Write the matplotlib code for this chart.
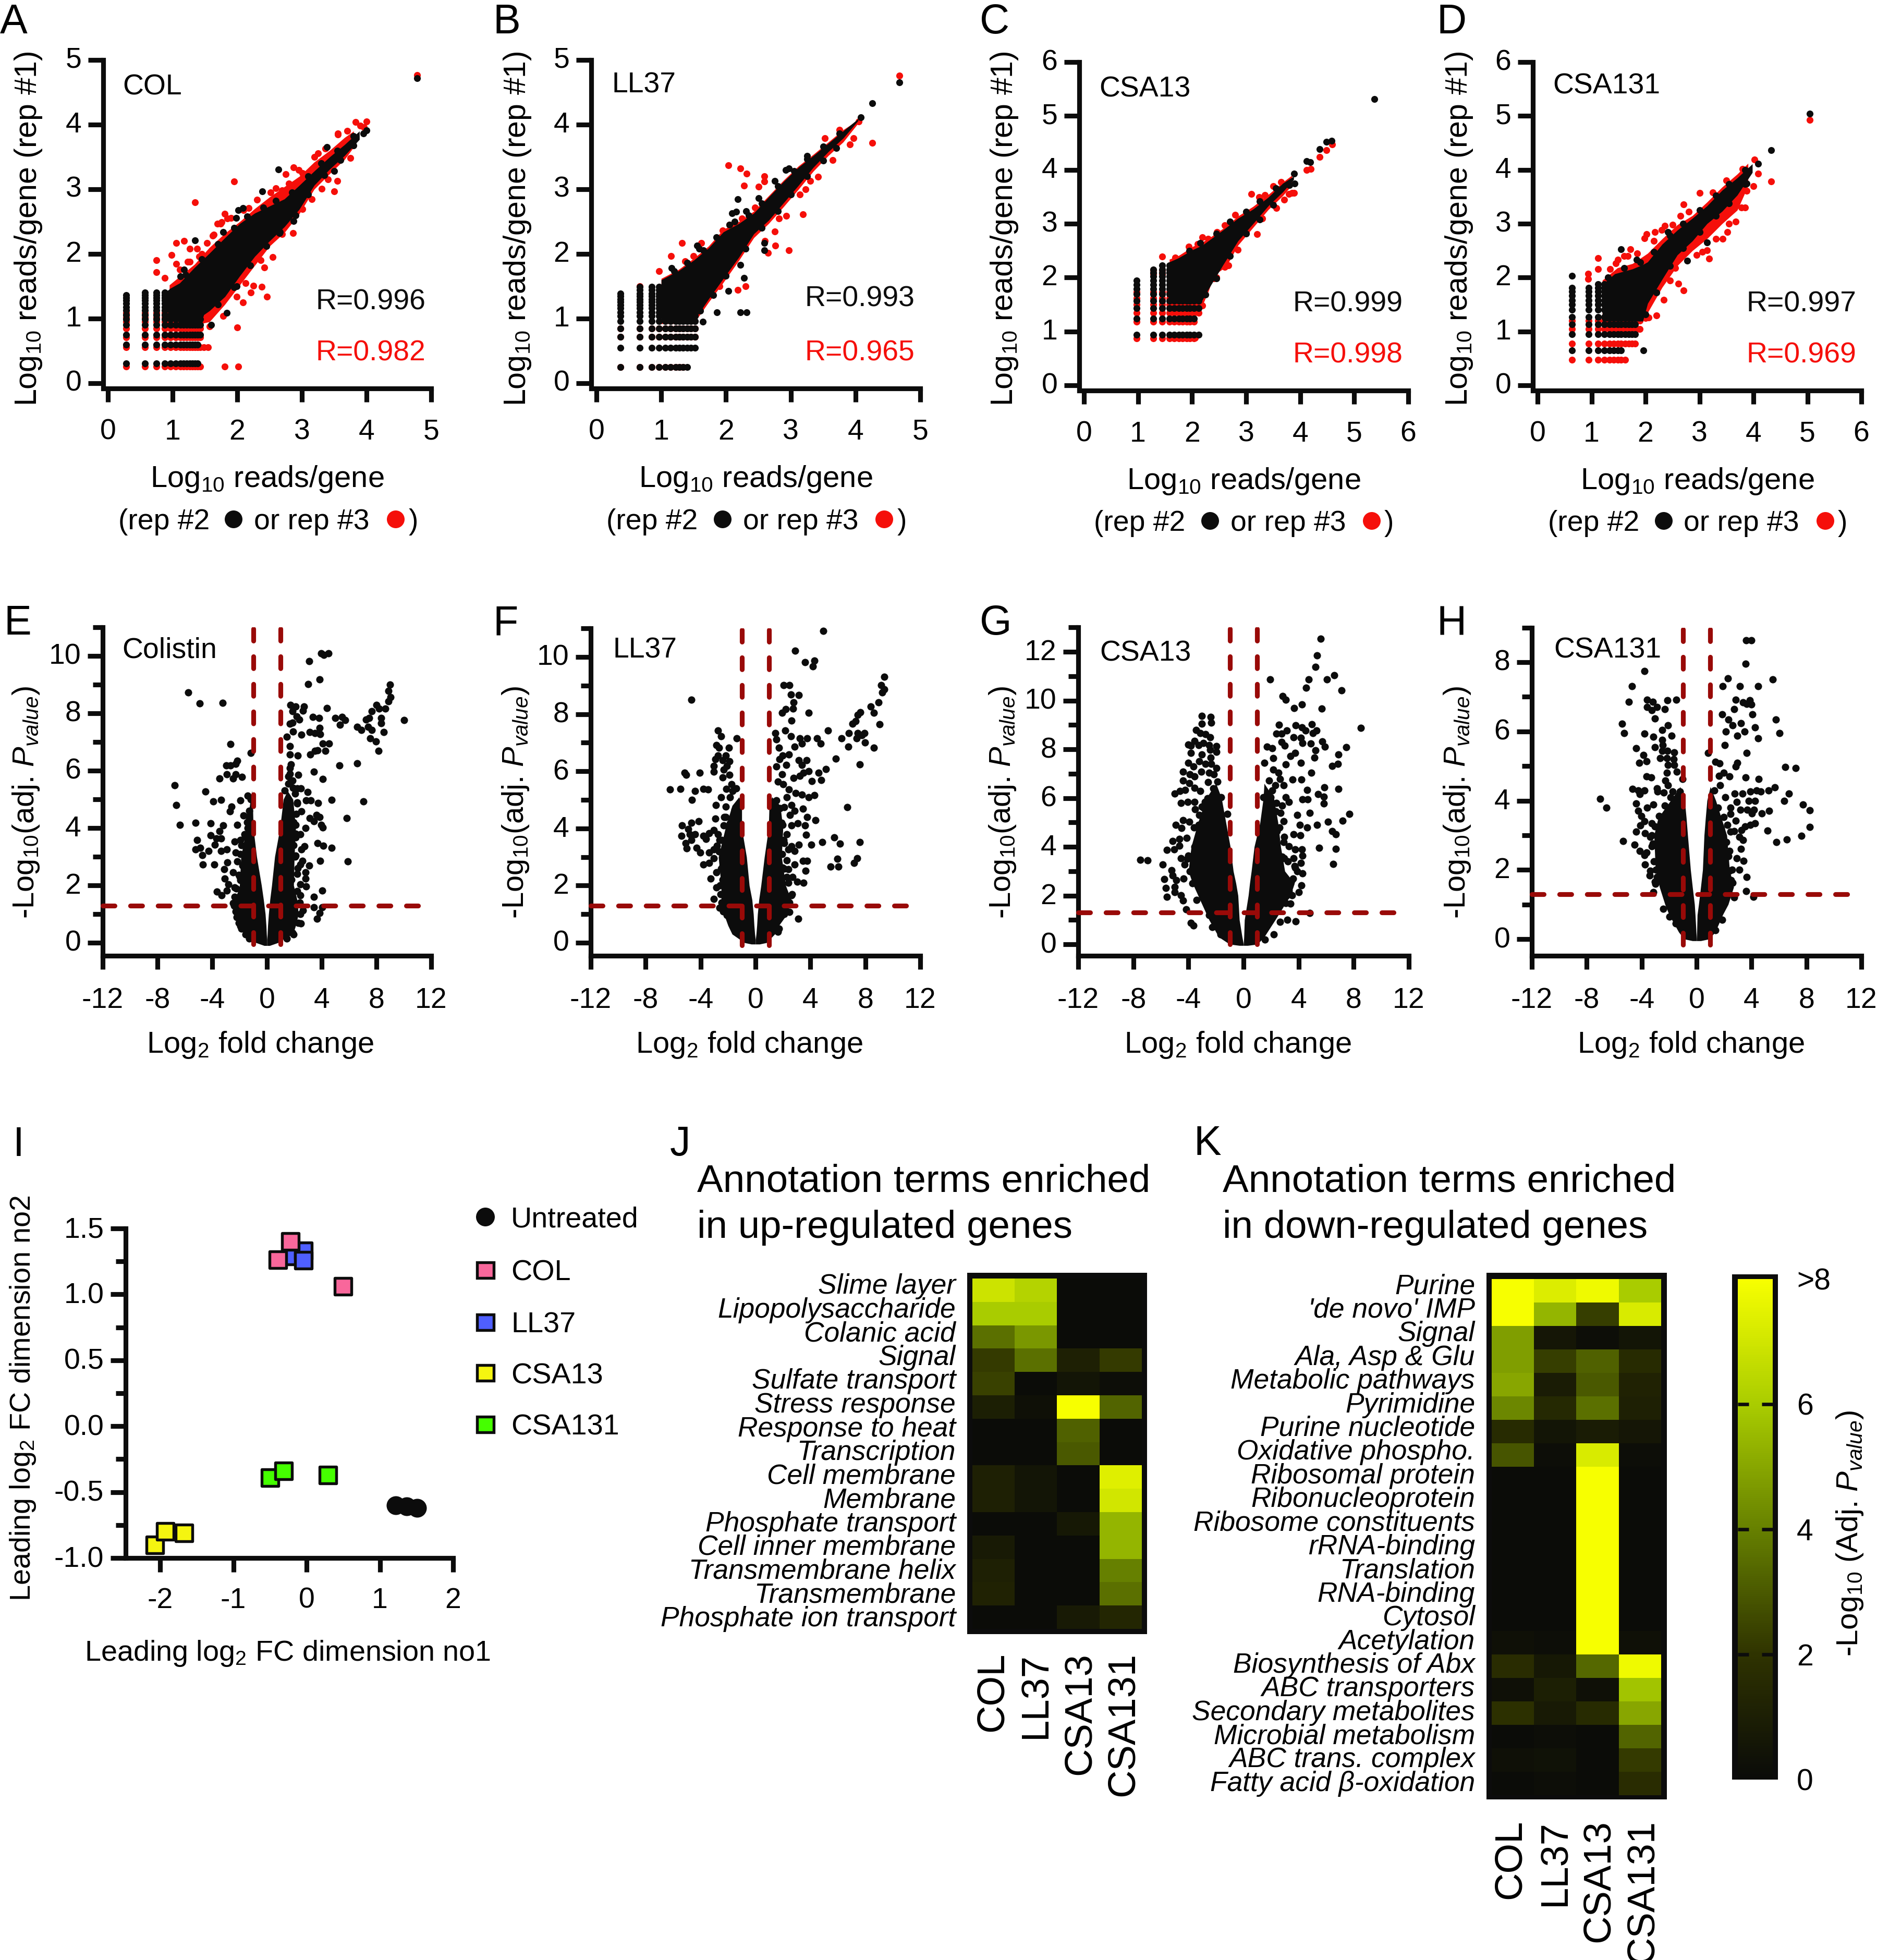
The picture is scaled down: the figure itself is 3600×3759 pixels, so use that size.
import matplotlib
matplotlib.use("Agg")
import matplotlib.pyplot as plt
from matplotlib.colors import LinearSegmentedColormap, Normalize
from matplotlib.cm import ScalarMappable
from matplotlib.patches import Rectangle, Ellipse
from matplotlib.transforms import ScaledTranslation

plt.rcParams['font.family'] = ['Liberation Sans', 'DejaVu Sans']
plt.rcParams['mathtext.fontset'] = 'custom'
plt.rcParams['mathtext.rm'] = 'Liberation Sans'
plt.rcParams['mathtext.it'] = 'Liberation Sans:italic'
plt.rcParams['mathtext.bf'] = 'Liberation Sans:bold'
plt.rcParams['axes.unicode_minus'] = False
plt.rcParams['lines.scale_dashes'] = False

W, H = 3600, 3759

# ---------- scatter data (A-D): (x, y) ----------
A_grid_x = [0.28, 0.57, 0.75, 0.88, 0.97, 1.05, 1.12, 1.17, 1.22, 1.27, 1.31, 1.35, 1.39, 1.43]
A_col_top = [1.36, 1.43, 1.43, 1.45, 1.45, 1.45, 1.45, 1.45, 1.45, 1.45, 1.45, 1.45, 1.45, 1.45]
A_grid_y = [0.31, 0.60, 0.75, 0.90, 0.99, 1.06, 1.13, 1.18, 1.23, 1.28, 1.32, 1.36, 1.40]
A_row_right = [1.41, 1.41, 1.43, 1.43, 1.50, 1.50, 1.50, 1.50, 1.50, 1.50, 1.50, 1.50, 1.50]
A_red_y = [0.26, 0.56, 0.71, 0.85, 0.95, 1.02, 1.09]
A_red_right = [1.43, 1.43, 1.43, 1.45, 1.50, 1.50, 1.50]
A_core_x = [0.95, 1.11, 1.34, 1.57, 1.81, 2.04, 2.27, 2.50, 2.73, 2.96, 3.19, 3.43, 3.66, 3.89]
A_core_lo = [0.96, 0.96, 0.96, 1.12, 1.34, 1.66, 1.96, 2.20, 2.42, 2.69, 3.06, 3.31, 3.52, 3.77]
A_core_hi = [1.46, 1.55, 1.79, 2.01, 2.25, 2.47, 2.63, 2.74, 2.85, 3.06, 3.28, 3.50, 3.69, 3.90]
A_band_x = [0.95, 1.34, 1.57, 1.81, 2.04, 2.27, 2.50, 2.73, 2.96, 3.19, 3.43, 3.66, 3.80]
A_band_lo = [0.90, 0.90, 0.95, 1.22, 1.52, 1.82, 2.12, 2.33, 2.62, 3.00, 3.24, 3.46, 3.65]
A_band_hi = [1.52, 1.84, 2.10, 2.32, 2.50, 2.70, 2.88, 3.04, 3.20, 3.42, 3.60, 3.80, 3.90]
A_red_px = [4.78, 1.95, 1.35, 2.87, 2.75, 4.0, 3.83, 3.96, 3.56, 3.70, 3.50, 3.55, 3.31, 2.86, 2.55, 2.42, 2.46, 2.38, 2.25, 2.21, 2.09, 2.0, 1.78, 1.18, 1.06, 1.27, 1.38, 0.98, 1.06, 0.75, 0.75, 0.88, 1.27, 1.41, 1.81, 1.69, 1.76, 1.62, 1.53, 1.81, 2.02, 1.55, 1.48,
            1.11, 1.23, 1.64, 1.74, 1.85, 2.18, 2.31, 2.52, 2.69, 2.80, 3.01, 3.19, 3.36, 3.56, 1.57, 1.99, 2.13, 2.36, 2.45, 2.69, 3.01, 3.15, 3.40, 1.45, 1.90, 2.10, 2.60, 2.95, 3.25, 3.75, 3.90]
A_red_py = [4.77, 3.12, 2.80, 3.34, 3.23, 4.05, 4.04, 3.96, 3.86, 3.90, 2.97, 3.13, 3.01, 2.32, 1.95, 1.79, 1.34, 1.49, 1.51, 1.40, 1.25, 0.86, 1.04, 2.20, 2.17, 2.08, 2.08, 1.98, 1.85, 1.90, 1.72, 1.63, 1.88, 1.96, 2.62, 2.47, 2.49, 2.28, 2.17, 0.26, 0.26, 0.56, 0.56,
            1.76, 1.88, 2.30, 2.47, 2.55, 2.71, 2.84, 2.95, 2.98, 3.09, 3.25, 3.50, 3.63, 3.85, 0.88, 1.34, 1.55, 1.90, 2.15, 2.31, 2.69, 2.85, 3.15, 2.00, 2.56, 2.68, 3.02, 3.30, 3.56, 3.48, 3.98]
A_blk_px = [4.78, 4.0, 3.95, 3.39, 2.64, 2.39, 2.09, 2.02, 1.98, 1.35, 1.78, 1.18, 1.12, 2.66, 2.87, 1.84, 1.6, 1.99, 3.5,
            1.20, 1.45, 1.70, 1.95, 2.15, 2.40, 2.60, 2.85, 3.10, 3.30, 3.55, 3.80, 1.70, 1.95, 2.20, 2.45, 2.65, 2.90, 3.10, 3.35, 3.60, 3.80]
A_blk_py = [4.72, 3.91, 3.86, 3.65, 3.31, 2.97, 2.71, 2.68, 2.56, 2.21, 2.34, 1.76, 1.65, 2.34, 2.51, 1.09, 0.90, 1.50, 3.28,
            1.68, 1.92, 2.15, 2.40, 2.58, 2.72, 2.82, 2.95, 3.20, 3.40, 3.60, 3.82, 1.22, 1.48, 1.82, 2.12, 2.32, 2.60, 2.92, 3.22, 3.45, 3.68]

B_grid_x = [0.37, 0.67, 0.85, 0.97, 1.06, 1.14, 1.22, 1.28, 1.34, 1.40, 1.46, 1.52]
B_col_top = [1.40, 1.50, 1.58, 1.55, 1.63, 1.63, 1.63, 1.63, 1.63, 1.63, 1.63, 1.63]
B_grid_y = [0.25, 0.55, 0.72, 0.85, 0.96, 1.04, 1.10, 1.16, 1.21, 1.26, 1.30, 1.35, 1.39, 1.44, 1.49]
B_row_right = [1.40, 1.52, 1.55, 1.60, 1.60, 1.60, 1.60, 1.60, 1.60, 1.60, 1.60, 1.60, 1.60, 1.60, 1.60]
B_red_y = [0.25, 0.72, 0.85, 1.50, 1.64]
B_red_right = [1.36, 1.55, 1.55, 0.70, 0.70]
B_core_x = [1.00, 1.27, 1.50, 1.73, 1.96, 2.20, 2.43, 2.66, 2.89, 3.12, 3.35, 3.58, 3.81, 4.04]
B_core_lo = [0.96, 0.96, 0.96, 1.30, 1.62, 1.95, 2.31, 2.52, 2.79, 3.06, 3.34, 3.58, 3.79, 4.06]
B_core_hi = [1.60, 1.74, 1.90, 2.09, 2.34, 2.47, 2.63, 2.88, 3.12, 3.34, 3.52, 3.71, 3.90, 4.09]
B_band_x = [1.00, 1.27, 1.50, 1.73, 1.96, 2.20, 2.43, 2.66, 2.89, 3.12, 3.35, 3.58, 3.81, 4.04]
B_band_lo = [0.92, 0.92, 0.92, 1.25, 1.56, 1.90, 2.25, 2.47, 2.73, 3.00, 3.28, 3.52, 3.73, 4.02]
B_band_hi = [1.62, 1.76, 1.93, 2.12, 2.38, 2.50, 2.66, 2.90, 3.14, 3.36, 3.54, 3.73, 3.92, 4.07]
B_red_px = [4.68, 4.26, 2.04, 2.22, 2.32, 2.28, 2.5, 2.59, 2.59, 3.19, 2.97, 2.76, 2.65, 2.3, 2.18, 1.32, 1.62, 1.15, 0.97, 1.37, 3.53, 3.97, 3.91, 2.93, 2.82, 3.23, 3.14, 3.42,
            1.95, 1.90, 2.05, 2.25, 2.45, 2.60, 2.75, 3.30, 3.65, 3.75, 4.05, 1.80, 1.50]
B_red_py = [4.76, 3.72, 3.37, 3.32, 3.24, 3.06, 3.04, 3.20, 3.12, 2.61, 2.06, 2.13, 2.02, 1.50, 1.44, 2.17, 2.17, 1.97, 1.73, 1.89, 3.79, 3.79, 3.69, 2.59, 2.55, 3.00, 2.92, 3.19,
            2.36, 1.50, 2.45, 2.55, 2.72, 2.20, 2.35, 3.13, 3.45, 3.92, 4.05, 1.70, 1.97]
B_blk_px = [4.68, 4.26, 4.08, 2.18, 2.5, 2.75, 2.92, 2.97, 3.25, 2.13, 2.09, 2.16, 2.31, 2.28, 2.22, 2.04, 2.22, 2.32, 1.86, 1.64, 2.59, 2.59, 1.55, 1.59, 1.16,
            1.20, 1.40, 1.65, 1.85, 2.05, 2.35, 2.55, 2.80, 3.05, 3.25, 3.50, 3.75, 1.60, 1.80, 2.00, 2.30, 2.55, 2.80, 3.00, 3.25, 3.50, 3.70]
B_blk_py = [4.65, 4.33, 4.11, 2.85, 2.86, 3.13, 3.30, 3.32, 3.52, 2.50, 2.63, 2.65, 2.66, 1.63, 1.83, 1.43, 1.10, 1.10, 1.10, 0.95, 2.06, 2.17, 2.13, 2.08, 1.78,
            1.73, 1.86, 2.06, 2.26, 2.45, 2.60, 2.78, 3.05, 3.28, 3.47, 3.66, 3.86, 1.12, 1.36, 1.66, 2.08, 2.40, 2.66, 2.92, 3.20, 3.44, 3.64]

C_grid_x = [0.97, 1.28, 1.45, 1.58, 1.67, 1.76, 1.82, 1.90, 1.96, 2.04, 2.12]
C_col_top = [2.00, 2.18, 2.28, 2.23, 2.30, 2.30, 2.30, 2.30, 2.30, 2.30, 2.30]
C_grid_y = [0.94, 1.24, 1.43, 1.57, 1.69, 1.79, 1.87, 1.95, 2.02, 2.09, 2.15, 2.23]
C_row_right = [2.12, 2.05, 2.12, 2.20, 2.20, 2.20, 2.20, 2.20, 2.20, 2.20, 2.20, 2.20]
C_red_y = [0.87, 1.18, 1.35, 1.50, 1.62, 1.73, 2.07, 2.14, 2.39]
C_red_right = [2.06, 2.10, 2.19, 2.19, 2.19, 2.19, 1.45, 1.45, 1.45]
C_core_x = [1.58, 1.74, 2.02, 2.19, 2.30, 2.57, 2.85, 3.13, 3.41, 3.68, 3.88]
C_core_lo = [1.58, 1.58, 1.58, 1.58, 1.78, 2.23, 2.68, 3.00, 3.33, 3.59, 3.82]
C_core_hi = [2.29, 2.36, 2.52, 2.60, 2.68, 2.88, 3.10, 3.27, 3.49, 3.75, 3.88]
C_band_x = [1.58, 1.74, 2.02, 2.19, 2.30, 2.41, 2.63, 2.85, 3.13, 3.41, 3.68, 3.85]
C_band_lo = [1.50, 1.50, 1.50, 1.48, 1.74, 2.05, 2.20, 2.60, 2.93, 3.26, 3.52, 3.72]
C_band_hi = [2.34, 2.40, 2.58, 2.66, 2.72, 2.80, 2.95, 3.14, 3.32, 3.54, 3.77, 3.90]
C_red_px = [4.59, 4.49, 4.36, 4.2, 4.12, 3.89, 3.79, 3.1, 3.5, 3.56, 3.2, 2.19, 1.94, 1.69, 1.45, 2.46, 2.67, 2.45, 2.19, 2.92, 3.24, 3.35, 2.05,
            2.10, 2.30, 2.60, 2.80, 3.30, 3.65, 2.40, 2.60, 2.85, 3.00, 3.30, 3.70, 3.85]
C_red_py = [4.47, 4.36, 4.24, 4.02, 4.0, 3.57, 3.55, 3.55, 3.70, 3.29, 2.81, 2.75, 2.57, 2.37, 2.39, 2.85, 2.23, 2.00, 1.48, 3.06, 3.49, 3.53, 0.88,
            2.62, 2.72, 2.97, 3.16, 3.42, 3.77, 1.98, 2.20, 2.52, 2.85, 3.10, 3.45, 3.57]
C_blk_px = [5.37, 4.58, 4.49, 4.36, 4.19, 4.12, 3.89, 3.9,
            1.95, 2.15, 2.45, 2.70, 3.00, 3.25, 3.55, 2.25, 2.45, 2.70, 3.00, 3.25, 3.50, 3.80]
C_blk_py = [5.31, 4.54, 4.52, 4.38, 4.14, 4.16, 3.93, 3.75,
            2.50, 2.64, 2.82, 3.04, 3.22, 3.42, 3.66, 1.68, 1.98, 2.40, 2.82, 3.08, 3.35, 3.72]

D_grid_x = [0.64, 0.95, 1.12, 1.24, 1.33, 1.41, 1.49, 1.55, 1.62, 1.69, 1.75, 1.81, 1.89]
D_col_top = [1.81, 1.81, 1.95, 1.92, 1.92, 1.92, 1.92, 1.92, 1.92, 1.92, 1.92, 1.92, 1.92]
D_grid_y = [0.65, 0.95, 1.13, 1.27, 1.40, 1.50, 1.58, 1.66, 1.74, 1.81, 1.88]
D_row_right = [1.55, 1.81, 1.87, 1.90, 1.90, 1.90, 1.90, 1.90, 1.90, 1.90, 1.90]
D_red_y = [0.47, 0.77, 1.05, 1.20]
D_red_right = [1.62, 1.85, 1.90, 1.90]
D_core_x = [1.20, 1.43, 1.76, 1.95, 2.04, 2.31, 2.59, 2.87, 3.14, 3.42, 3.70, 3.98]
D_core_lo = [1.19, 1.19, 1.19, 1.19, 1.52, 1.97, 2.42, 2.68, 3.00, 3.23, 3.53, 3.95]
D_core_hi = [1.87, 2.07, 2.16, 2.24, 2.29, 2.62, 2.88, 3.10, 3.33, 3.62, 3.85, 4.11]
D_band_x = [1.20, 1.48, 1.76, 2.04, 2.31, 2.59, 2.87, 3.14, 3.42, 3.70, 3.90]
D_band_lo = [1.10, 1.10, 1.10, 1.35, 1.82, 2.22, 2.50, 2.72, 3.00, 3.25, 3.70]
D_band_hi = [1.95, 2.18, 2.26, 2.45, 2.72, 2.98, 3.15, 3.40, 3.68, 3.92, 4.12]
D_red_px = [5.04, 4.33, 4.09, 4.0, 4.02, 3.87, 3.78, 3.64, 3.67, 3.52, 3.43, 3.18, 3.14, 3.0, 2.71, 2.71, 2.61, 2.34, 2.06, 2.02, 2.17, 1.98, 2.36, 1.72, 1.67, 1.12, 1.12, 0.94, 0.94, 1.49, 1.34,
            1.45, 1.60, 1.85, 2.15, 2.30, 2.50, 2.65, 2.80, 3.25, 3.50, 3.80, 1.85, 2.00, 2.20, 2.45, 2.55, 2.95, 3.05, 3.30, 3.55, 3.85]
D_red_py = [4.93, 3.78, 3.93, 3.70, 4.19, 3.61, 3.30, 3.33, 3.04, 2.85, 2.72, 2.35, 2.51, 3.57, 3.36, 1.76, 1.89, 1.59, 1.26, 2.81, 2.85, 2.73, 2.96, 2.53, 2.40, 2.36, 2.16, 2.07, 1.97, 2.33, 2.16,
            2.26, 2.40, 2.45, 2.68, 2.88, 2.98, 3.15, 3.22, 3.58, 3.80, 4.02, 1.05, 1.25, 1.30, 1.95, 2.18, 2.42, 2.48, 2.72, 3.00, 3.30]
D_blk_px = [5.04, 4.33, 4.09, 1.55, 1.96, 2.77, 3.14, 2.42, 1.84, 3.87, 3.75, 0.64,
            1.30, 1.60, 1.90, 2.15, 2.45, 2.70, 3.00, 3.30, 3.55, 3.85, 2.00, 2.20, 2.45, 2.70, 3.00, 3.30, 3.55, 3.85]
D_blk_py = [5.04, 4.36, 4.11, 2.53, 0.65, 2.31, 2.65, 2.85, 2.33, 3.75, 3.78, 2.03,
            2.00, 2.18, 2.28, 2.48, 2.78, 3.00, 3.25, 3.52, 3.74, 4.00, 1.32, 1.72, 2.22, 2.55, 2.85, 3.15, 3.38, 3.74]

R_black = ['R=0.996', 'R=0.993', 'R=0.999', 'R=0.997']
R_red = ['R=0.982', 'R=0.965', 'R=0.998', 'R=0.969']
top_titles = ['COL', 'LL37', 'CSA13', 'CSA131']

# ---------- volcano data (E-H) ----------
# dense V core: for each -log10 p level, inner and outer log2 FC
E_lv = [-0.10, 0.0, 0.1, 0.3, 0.6, 1.0, 1.5, 2.0, 3.0, 4.0, 5.0, 5.3]
E_L_out = [-0.2, -0.8, -1.1, -1.7, -2.0, -2.3, -2.3, -2.0, -1.9, -1.5, -1.2, -1.1]
E_L_in = [0.0, 0.0, 0.0, -0.03, -0.06, -0.12, -0.25, -0.4, -0.75, -1.0, -1.05, -1.1]
E_R_out = [0.2, 0.8, 1.1, 1.9, 2.1, 2.3, 2.2, 1.95, 2.0, 2.1, 1.9, 1.5]
E_R_in = [0.0, 0.0, 0.0, 0.03, 0.06, 0.12, 0.22, 0.35, 0.57, 0.95, 1.2, 1.5]
E_px = [10.0, 9.0, 8.87, 9.04, 8.87, 8.65, 8.0, 7.66, 8.2, 8.36, 8.36, 8.54, 8.17, 7.97, 7.55, 7.66, 7.4, 6.9, 6.6, 7.23, 7.45, 5.7, 5.33, 4.98, 5.48, 4.54, 4.06, 4.28, 5.28, 6.59, 7.05, 5.81, 5.92, 4.74, 4.72, 4.06, 3.41, 4.39, 3.86, 3.01, 3.08, 3.95, 4.17, 4.5, 3.34, 3.8, 3.14, 3.52, 3.89, 3.84, 2.53, 1.92, 1.44, 1.66, 1.88, 2.16, 2.38, 2.64, 2.71, 2.1, 1.72, 1.88, 1.68, 1.68, 2.25, 3.17, 3.52, 3.69, 1.77, 1.66, 1.66, 2.27, 1.88, 1.55, 2.2, 2.49, 2.97, 1.29, 2.86, 3.19, 3.73, 3.62, 3.84, 3.14, 3.41, 3.95, 4.06, 3.69, 4.1, 3.89, 3.08, 2.75, 2.53, 2.6, 2.82, 2.82, 2.86, 3.41, 4.02, 3.41, 4.02, 3.84, 3.67, 2.47, 1.88, 2.82, 2.42, 2.1, 2.53, 2.2, 2.1, 2.1, 2.42, 2.2, 2.42, 2.42, 2.64,
        -5.76, -4.93, -3.25, -2.66, -1.18, -2.99, -2.66, -2.16, -2.27, -2.93, -3.47, -2.27, -2.49, -1.83, -6.75, -6.64, -6.38, -5.22, -4.5, -3.91, -3.36, -2.6, -2.71, -1.94, -1.4, -4.13, -3.19, -4.13, -3.47, -3.69, -3.36, -3.8, -4.28, -5.11, -5.22, -4.89, -4.74, -4.67, -3.86, -3.36, -2.93, -2.88, -3.14, -3.1, -2.49, -2.05, -2.82, -2.93, -3.65, -3.32, -2.49, -2.38, -2.27, -2.16, -1.72, -2.16, -1.94, -2.38, -1.94, -2.16, -1.94, -1.62, -1.4, -1.72, -1.94,
        -2.40, -2.30, -2.20, -2.05, -1.85, -1.55, -1.30, -2.35, -2.25, -2.00, -1.80, -1.95, -1.85, -1.60, -1.45, -1.30, -1.20, -1.35, 1.95, 2.30, 2.45, 2.40, 2.20, 1.80, 1.45, 2.25, 2.05, 1.95, 2.10, 1.95, 2.15, 2.20, 2.05, 1.90, 1.70, 1.55]
E_py = [7.76, 9.0, 8.78, 8.56, 8.41, 8.16, 8.29, 8.08, 8.16, 7.84, 7.66, 7.35, 6.69, 7.02, 7.13, 7.42, 7.52, 7.42, 7.52, 7.79, 7.84, 7.77, 7.6, 7.84, 7.88, 6.95, 6.95, 6.69, 6.19, 6.26, 4.93, 4.34, 2.83, 3.31, 4.98, 5.71, 5.96, 8.19, 9.18, 9.02, 9.81, 10.1, 10.03, 10.1, 7.87, 7.84, 7.35, 7.31, 7.28, 7.5, 7.26, 7.36, 7.19, 7.63, 7.68, 7.9, 7.79, 8.09, 8.24, 8.24, 8.29, 8.08, 6.86, 6.56, 6.53, 6.56, 6.69, 6.71, 6.22, 6.1, 5.89, 5.85, 5.66, 5.55, 5.39, 5.39, 5.25, 5.31, 4.96, 4.96, 4.88, 4.45, 4.38, 4.35, 4.24, 4.11, 4.02, 3.47, 3.38, 2.86, 2.69, 3.36, 3.26, 2.85, 2.45, 2.24, 1.97, 1.6, 1.81, 1.23, 1.23, 1.04, 0.83, 0.67, 0.35, 4.0, 3.79, 3.68, 4.59, 4.86, 4.11, 3.04, 2.72, 2.4, 2.03, 1.65, 1.12,
        8.72, 8.34, 8.36, 6.92, 6.62, 6.19, 6.19, 6.35, 6.24, 5.87, 5.73, 5.87, 5.73, 5.78, 5.5, 4.8, 4.11, 4.19, 5.28, 4.93, 4.99, 4.75, 4.59, 4.96, 5.12, 4.16, 4.1, 3.74, 3.9, 3.63, 3.63, 3.42, 3.2, 3.58, 3.25, 3.31, 3.06, 2.72, 2.72, 3.2, 3.25, 2.8, 2.56, 2.24, 2.45, 2.37, 2.03, 1.81, 1.79, 1.65, 1.39, 3.52, 3.15, 4.11, 4.43, 2.83, 3.58, 1.92, 1.65, 1.01, 0.59, 3.79, 4.0, 2.72, 2.19,
        1.30, 1.10, 0.90, 0.70, 0.50, 0.30, 0.15, 1.60, 1.90, 2.30, 2.70, 3.10, 3.40, 3.70, 4.20, 4.60, 5.00, 4.40, 0.30, 0.70, 1.00, 1.40, 1.80, 2.20, 0.15, 2.60, 3.00, 3.40, 3.80, 4.20, 4.50, 4.90, 5.20, 5.40, 5.60, 5.80]

F_lv = [-0.05, 0.0, 0.1, 0.3, 0.6, 1.0, 1.5, 2.0, 3.0, 4.0, 4.8, 5.1]
F_L_out = [-0.3, -0.8, -1.1, -1.7, -2.0, -2.3, -2.5, -2.5, -2.7, -2.2, -1.7, -1.2]
F_L_in = [0.0, 0.0, 0.0, -0.05, -0.1, -0.15, -0.25, -0.45, -0.65, -1.0, -1.0, -1.2]
F_R_out = [0.3, 0.8, 1.0, 1.4, 1.7, 2.3, 2.6, 2.2, 1.9, 2.0, 1.8, 1.2]
F_R_in = [0.0, 0.0, 0.0, 0.05, 0.1, 0.15, 0.25, 0.4, 0.65, 0.95, 1.0, 1.2]
F_px = [4.92, 2.9, 3.59, 4.31, 4.18, 9.39, 9.15, 9.37, 9.22, 8.95, 8.41, 8.61, 9.04, 8.63, 7.95, 7.97, 7.73, 7.36, 7.45, 7.63, 7.45, 7.3, 7.08, 6.8, 6.27, 6.75, 5.86, 7.58, 6.69, 5.27, 4.47, 4.75, 3.75, 3.22, 3.38, 2.83, 3.73, 3.16, 3.38, 5.14, 4.58, 4.79, 3.88, 3.49, 3.22, 4.1, 2.79, 4.31, 3.88, 3.38, 2.94, 3.44, 3.75, 4.36, 3.59, 3.09, 3.7, 4.07, 4.86, 5.73, 6.14, 7.58, 5.95, 7.41, 7.17, 5.45, 6.03, 3.75, 3.44, 3.64, 3.49, 3.12, 3.05, 2.83, 3.16, 2.83, 2.61, 1.92, 2.22, 2.72, 2.77, 2.57, 3.16, 2.05, 2.48, 3.86, 1.46, 2.18, 2.57, 1.53, 1.7, 2.44, 1.96, 1.74, 1.53, 2.24, 1.92, 1.63, 2.0, 2.44, 2.29, 1.53, 2.07, 2.61, 2.83, 2.51, 1.96, 2.61, 2.29, 2.07, 2.4, 2.61, 2.29, 1.96, 2.4, 2.68, 2.29, 2.61, 2.46, 1.63,
        -4.68, -2.75, -2.51, -1.35, -1.94, -2.83, -2.66, -2.18, -2.72, -2.94, -2.4, -1.9, -3.05, -2.07, -2.33, -3.05, -5.16, -5.05, -4.05, -2.4, -1.9, -6.21, -5.45, -4.42, -3.81, -3.44, -4.62, -1.74, -2.14, -1.42, -1.68, -2.51, -1.85, -2.9, -2.18, -1.53, -2.94, -2.29, -1.85, -5.36, -4.68, -4.14, -4.9, -5.38, -4.79, -4.42, -3.81, -3.38, -3.05, -2.72, -5.08, -5.01, -4.68, -4.31, -4.03, -3.59, -3.38, -3.05, -2.61, -3.05, -3.81, -3.38, -2.4, -2.4, -3.27, -2.83, -3.05, -2.83, -2.4, -2.61, -2.07, -1.63,
        -2.35, -2.45, -2.55, -2.60, -2.50, -2.65, -2.80, -2.45, -2.30, -2.15, 1.70, 2.10, 2.45, 2.65, 2.40, 2.10, 1.95, 2.05, 1.90, 1.80]
F_py = [10.92, 10.21, 9.81, 9.87, 9.67, 9.3, 9.02, 8.87, 8.76, 8.41, 8.27, 8.04, 7.64, 6.82, 7.34, 7.0, 7.26, 7.16, 7.34, 8.06, 7.98, 7.75, 7.66, 7.34, 7.15, 6.86, 6.45, 6.25, 4.75, 7.43, 7.15, 6.97, 7.15, 7.15, 6.97, 6.86, 6.38, 6.38, 6.22, 6.08, 5.95, 5.7, 6.0, 5.95, 5.84, 5.65, 5.77, 5.17, 5.09, 5.18, 5.23, 4.69, 4.39, 4.28, 4.11, 4.18, 3.77, 3.43, 3.53, 3.68, 3.46, 3.52, 2.93, 2.95, 2.79, 2.66, 2.66, 2.86, 2.86, 2.52, 2.09, 0.84, 2.14, 2.73, 3.43, 3.22, 7.77, 8.04, 8.18, 8.2, 8.41, 8.68, 8.66, 9.02, 9.02, 8.04, 7.34, 7.43, 7.23, 7.11, 6.83, 6.59, 6.56, 6.43, 6.16, 6.22, 5.89, 5.63, 5.55, 5.36, 5.09, 4.98, 4.75, 4.82, 4.61, 4.47, 4.13, 4.11, 3.8, 3.48, 3.27, 3.38, 2.89, 2.63, 2.57, 2.3, 2.3, 1.66, 1.07, 0.38,
        8.5, 7.42, 7.23, 7.15, 6.82, 6.91, 6.83, 6.56, 6.56, 6.43, 6.38, 6.35, 6.18, 6.18, 6.06, 5.98, 5.95, 5.88, 5.95, 5.79, 5.87, 5.36, 5.39, 5.31, 5.39, 5.36, 5.0, 5.54, 5.39, 5.41, 5.31, 5.09, 5.09, 4.82, 4.77, 4.66, 4.34, 4.39, 4.18, 4.11, 4.2, 4.25, 3.97, 3.75, 3.8, 3.8, 3.75, 3.84, 3.94, 3.8, 3.48, 3.3, 3.59, 3.32, 3.16, 3.64, 3.16, 3.27, 3.59, 2.95, 2.73, 2.79, 2.95, 2.68, 2.25, 2.47, 1.53, 1.93, 2.2, 1.23, 0.96, 0.59,
        1.10, 1.40, 1.70, 2.00, 2.60, 3.20, 3.40, 3.60, 4.10, 4.40, 0.50, 1.00, 1.40, 1.70, 2.10, 2.60, 3.10, 3.60, 4.20, 4.70]

G_lv = [-0.05, 0.0, 0.3, 1.0, 2.0, 2.5, 3.0, 4.0, 5.0, 6.0, 6.6]
G_L_out = [-0.3, -1.0, -1.8, -2.5, -3.3, -3.7, -4.0, -3.8, -3.3, -2.7, -2.0]
G_L_in = [0.0, 0.0, -0.1, -0.3, -0.4, -0.55, -0.74, -0.96, -1.28, -1.6, -2.0]
G_R_out = [0.3, 1.0, 1.5, 2.3, 3.4, 3.7, 3.0, 2.7, 2.5, 2.2, 1.5]
G_R_in = [0.0, 0.0, 0.03, 0.07, 0.35, 0.45, 0.57, 0.78, 1.2, 1.44, 1.5]
G_px = [5.6, 5.34, 5.23, 6.58, 6.06, 4.75, 1.94, 4.53, 7.12, 2.85, 3.07, 4.23, 3.68, 5.66, 8.5, 4.95, 2.57, 3.77, 4.23, 4.49, 5.29, 5.03, 3.14, 2.75, 2.37, 3.62, 4.16, 4.88, 4.27, 5.73, 5.9, 7.45, 5.21, 6.88, 5.14, 6.84, 6.45, 4.92, 4.16, 3.07, 1.5, 4.2, 3.55, 2.16, 2.16, 2.53, 1.72, 2.09, 2.75, 3.0, 3.4, 3.73, 2.64, 1.87, 2.31, 2.9, 4.6, 5.88, 6.88, 5.4, 5.82, 5.84, 4.27, 4.64, 3.29, 2.81, 1.44, 1.98, 3.07, 3.9, 4.81, 7.67, 7.21, 6.12, 5.34, 4.62, 4.1, 4.12, 3.64, 2.92, 2.35, 6.45, 6.69, 5.49, 6.69, 6.51, 4.23, 3.73, 4.27, 3.62, 4.16, 3.73, 4.27, 3.29, 2.96, 2.42, 2.96, 4.2, 4.01, 3.51, 3.4, 4.81, 3.77, 3.18, 2.64, 2.2, 1.55,
        -3.03, -2.4, -2.33, -3.03, -3.46, -3.14, -2.75, -2.42, -3.57, -4.0, -3.83, -2.92, -3.25, -2.48, -1.98, -3.83, -2.42, -1.98, -3.03, -2.37, -4.0, -3.64, -3.2, -2.75, -2.33, -1.98, -4.38, -3.9, -3.57, -3.07, -2.48, -2.16, -4.38, -3.94, -3.57, -2.59, -1.9, -4.99, -4.6, -4.23, -3.14, -4.55, -4.05, -3.57, -2.81, -2.05, -1.61, -3.53, -3.03, -2.48, -1.18, -4.92, -4.38, -4.49, -3.94, -3.25, -5.14, -4.66, -4.12, -4.66, -5.58, -5.03, -4.55, -4.0, -4.27, -5.86, -5.23, -5.14, -5.75, -4.88, -4.34, -5.64, -4.99, -5.58, -4.99, -4.55, -4.38, -3.42, -4.16, -3.83, -3.62, -2.27, -1.66, -1.72, -6.95, -7.49,
        -3.70, -3.90, -4.10, -3.55, -3.30, -3.60, -3.20, -2.90, -2.60, -2.20, -2.50, 3.30, 3.60, 3.90, 3.70, 3.20, 2.80, 2.90, 2.60, 2.70, 2.40, 2.10, 3.10, 3.50, 3.05]
G_py = [12.53, 11.85, 11.39, 11.03, 10.87, 10.87, 10.87, 10.52, 10.41, 10.19, 10.04, 9.85, 9.69, 9.66, 8.88, 9.03, 9.01, 8.98, 8.89, 8.76, 8.76, 8.67, 8.76, 8.64, 8.64, 8.5, 8.46, 8.23, 8.25, 8.33, 8.1, 8.08, 7.95, 7.79, 7.66, 7.4, 7.31, 7.04, 7.45, 7.37, 7.44, 6.77, 6.75, 7.64, 7.16, 7.04, 8.1, 8.04, 8.29, 8.14, 7.73, 7.85, 6.78, 6.72, 6.53, 6.53, 6.34, 6.43, 6.37, 6.16, 6.06, 5.78, 5.94, 5.94, 5.84, 5.68, 6.03, 6.03, 6.03, 5.31, 5.39, 5.34, 5.06, 5.03, 4.89, 4.8, 4.9, 4.46, 4.52, 5.05, 5.46, 4.65, 4.52, 3.96, 3.92, 3.29, 3.89, 3.89, 3.64, 3.52, 3.33, 3.14, 2.91, 4.02, 4.4, 4.65, 3.52, 2.42, 2.14, 2.01, 1.66, 1.28, 0.94, 1.0, 0.92, 0.4, 0.19,
        9.37, 9.33, 9.1, 9.05, 8.79, 8.67, 8.61, 8.5, 8.35, 8.19, 8.14, 8.25, 8.17, 8.17, 8.13, 7.85, 7.98, 7.89, 7.79, 7.66, 7.45, 7.29, 7.5, 7.41, 7.41, 7.22, 7.07, 6.97, 6.88, 7.07, 7.04, 6.97, 6.72, 6.6, 6.41, 6.66, 6.68, 6.19, 6.28, 6.34, 6.28, 5.8, 5.84, 5.84, 5.84, 6.03, 6.03, 5.53, 5.65, 5.4, 5.34, 4.9, 5.09, 4.77, 5.03, 4.9, 4.23, 4.33, 4.37, 4.04, 3.87, 3.89, 3.52, 3.64, 3.27, 3.27, 3.04, 2.83, 2.68, 2.64, 2.7, 2.32, 2.36, 1.95, 2.14, 2.01, 1.8, 1.82, 1.44, 0.88, 0.78, 0.7, 0.41, 0.63, 3.45, 3.47,
        2.50, 3.00, 3.50, 4.00, 4.40, 4.80, 5.30, 5.60, 6.00, 6.40, 1.20, 2.20, 2.70, 3.00, 3.20, 3.40, 3.60, 4.20, 4.80, 5.40, 5.80, 6.30, 2.00, 2.60, 1.70]

H_lv = [-0.05, 0.0, 0.2, 0.7, 1.0, 1.5, 2.0, 3.0, 3.5, 4.0, 4.4]
H_L_out = [-0.3, -0.9, -1.3, -2.0, -2.3, -2.7, -3.0, -3.1, -2.8, -1.9, -1.2]
H_L_in = [0.0, 0.0, -0.03, -0.1, -0.15, -0.3, -0.44, -0.65, -0.75, -0.87, -1.2]
H_R_out = [0.3, 0.9, 1.35, 1.9, 2.3, 2.7, 2.4, 2.2, 1.8, 1.4, 1.0]
H_R_in = [0.0, 0.0, 0.02, 0.05, 0.15, 0.3, 0.44, 0.55, 0.65, 0.76, 1.0]
H_px = [3.59, 3.99, 3.57, 2.27, 5.53, 1.9, 3.14, 4.47, 2.83, 3.88, 3.38, 3.64, 3.99, 2.72, 1.85, 4.07, 2.33, 5.77, 2.61, 3.22, 4.25, 2.14, 3.49, 2.98, 6.03, 4.47, 2.05, 3.64, 0.83, 1.35, 1.68, 2.98, 2.83, 6.45, 7.23, 1.96, 1.63, 2.4, 3.57, 4.51, 5.69, 5.23, 4.68, 4.36, 3.92, 6.71, 6.38, 3.33, 2.79, 3.81, 4.25, 2.94, 2.07, 1.7, 7.73, 8.24, 8.24, 7.63, 6.58, 5.82, 5.16, 5.29, 4.75, 4.18, 3.7, 4.03, 3.2, 2.46, 2.46, 2.83, 1.96, 4.25, 3.92, 3.55, 3.27, 2.24, 3.12, 3.38, 2.72, 2.4, 3.22, 2.94, 3.42, 3.12, 3.66, 2.4, 3.62, 4.14, 1.85, 1.37, 2.61,
        -3.79, -4.71, -4.92, -3.6, -3.2, -3.6, -3.27, -2.88, -2.33, -2.11, -1.48, -3.05, -5.42, -5.27, -3.81, -2.51, -2.07, -3.16, -1.81, -2.51, -3.05, -2.46, -4.4, -2.51, -2.11, -1.63, -3.88, -2.66, -2.18, -1.68, -4.18, -3.66, -2.07, -1.63, -3.66, -3.31, -2.18, -1.46, -1.02, -2.29, -2.07, -2.88, -4.68, -4.25, -3.81, -4.14, -2.83, -2.4, -1.74, -1.2, -7.02, -6.56, -4.4, -4.25, -4.03, -3.6, -3.16, -3.81, -4.1, -3.27, -4.42, -3.77, -5.34, -4.53, -4.14, -3.66, -3.81, -3.75, -3.38, -3.27, -3.38, -3.42, -3.05, -3.16, -2.44, -1.96, -1.53,
        -2.90, -3.10, -3.20, -3.05, -2.75, -2.30, -1.90, -3.25, -3.00, -2.95, 2.75, 2.50, 2.30, 2.15, 1.80, 1.55, 2.60, 2.45, 1.30]
H_py = [8.64, 8.64, 7.95, 7.53, 7.51, 7.3, 7.3, 7.3, 6.92, 6.9, 6.84, 6.8, 6.78, 6.65, 6.49, 6.49, 6.35, 6.35, 6.18, 6.24, 6.11, 6.0, 6.0, 5.88, 5.95, 5.8, 5.6, 5.38, 5.38, 5.12, 5.07, 5.09, 4.98, 4.97, 4.94, 4.81, 4.72, 4.7, 4.67, 4.63, 4.38, 4.3, 4.27, 4.29, 4.27, 4.21, 4.0, 4.2, 4.2, 4.0, 4.0, 3.96, 4.1, 4.45, 3.88, 3.72, 3.24, 2.98, 2.88, 2.8, 3.14, 3.7, 3.63, 3.73, 3.73, 3.63, 3.73, 3.79, 3.61, 3.42, 3.52, 3.35, 3.3, 3.26, 3.15, 3.3, 2.95, 2.86, 3.12, 2.55, 2.61, 2.33, 2.26, 2.0, 1.8, 1.97, 1.39, 1.22, 0.56, 0.25, 1.62,
        7.74, 7.3, 6.86, 6.92, 6.86, 6.71, 6.62, 6.71, 6.65, 6.9, 6.92, 6.38, 6.22, 5.95, 5.94, 6.04, 6.18, 5.85, 5.87, 5.76, 5.55, 5.6, 5.52, 5.44, 5.44, 5.4, 5.32, 5.23, 5.23, 5.2, 5.09, 5.13, 5.03, 5.03, 4.7, 4.67, 4.81, 4.83, 4.63, 4.58, 4.45, 4.36, 4.34, 4.3, 4.29, 4.19, 4.27, 4.23, 4.27, 4.27, 4.06, 3.8, 3.92, 3.7, 3.55, 3.79, 3.89, 3.41, 3.28, 3.35, 3.1, 3.06, 2.83, 2.72, 2.55, 2.5, 2.42, 2.15, 2.95, 2.68, 1.97, 1.84, 1.65, 1.35, 0.88, 0.65, 0.45,
        1.80, 2.25, 2.75, 3.25, 3.55, 3.85, 4.10, 3.00, 1.60, 2.00, 1.20, 1.70, 2.40, 2.80, 3.20, 3.80, 2.00, 3.10, 4.30]

volcano_titles = ['Colistin', 'LL37', 'CSA13', 'CSA131']

# ---------- MDS data (I) ----------
mds_untreated_x = [1.22, 1.37, 1.51]
mds_untreated_y = [-0.60, -0.61, -0.62]
mds_col_x = [-0.39, -0.22, 0.50]
mds_col_y = [1.264, 1.40, 1.06]
mds_ll37_x = [-0.18, -0.04, -0.04]
mds_ll37_y = [1.29, 1.33, 1.26]
mds_csa13_x = [-2.07, -1.93, -1.67]
mds_csa13_y = [-0.90, -0.80, -0.81]
mds_csa131_x = [-0.50, -0.31, 0.29]
mds_csa131_y = [-0.39, -0.34, -0.37]
mds_names = ['Untreated', 'COL', 'LL37', 'CSA13', 'CSA131']

# ---------- heat maps ----------
heat_cols = ['COL', 'LL37', 'CSA13', 'CSA131']
up_terms = ['Slime layer', 'Lipopolysaccharide', 'Colanic acid', 'Signal', 'Sulfate transport',
            'Stress response', 'Response to heat', 'Transcription', 'Cell membrane', 'Membrane',
            'Phosphate transport', 'Cell inner membrane', 'Transmembrane helix', 'Transmembrane',
            'Phosphate ion transport']
up_COL = [6.9, 6.0, 3.6, 2.2, 2.4, 1.0, 0.1, 0.1, 1.1, 1.1, 0.1, 0.8, 1.1, 1.2, 0.1]
up_LL37 = [6.3, 6.0, 4.6, 3.6, 0.1, 0.3, 0.1, 0.1, 0.5, 0.5, 0.1, 0.1, 0.1, 0.1, 0.1]
up_CSA13 = [0.1, 0.1, 0.1, 1.1, 0.5, 8.0, 3.2, 3.0, 0.1, 0.1, 0.7, 0.1, 0.1, 0.1, 0.8]
up_CSA131 = [0.1, 0.1, 0.1, 2.2, 0.2, 3.3, 0.1, 0.1, 7.4, 7.0, 5.4, 5.4, 4.0, 3.6, 1.4]
down_terms = ['Purine', "'de novo' IMP", 'Signal', 'Ala, Asp & Glu', 'Metabolic pathways', 'Pyrimidine',
              'Purine nucleotide', 'Oxidative phospho.', 'Ribosomal protein', 'Ribonucleoprotein',
              'Ribosome constituents', 'rRNA-binding', 'Translation', 'RNA-binding', 'Cytosol', 'Acetylation',
              'Biosynthesis of Abx', 'ABC transporters', 'Secondary metabolites', 'Microbial metabolism',
              'ABC trans. complex', 'Fatty acid β-oxidation']
down_COL = [8.0, 8.0, 4.8, 4.8, 5.0, 4.2, 1.6, 2.9, 0.1, 0.1, 0.1, 0.1, 0.1, 0.1, 0.1, 0.3, 1.7, 0.3, 1.9, 0.1, 0.3, 0.1]
down_LL37 = [7.3, 5.4, 0.6, 2.3, 0.9, 1.5, 0.5, 0.2, 0.1, 0.1, 0.1, 0.1, 0.1, 0.1, 0.1, 0.2, 0.7, 1.0, 0.8, 0.2, 0.4, 0.2]
down_CSA13 = [7.8, 2.3, 0.2, 3.2, 3.0, 3.6, 0.9, 7.2, 8.0, 8.0, 8.0, 8.0, 8.0, 8.0, 8.0, 8.0, 3.4, 0.3, 1.6, 0.1, 0.1, 0.1]
down_CSA131 = [6.0, 7.2, 0.5, 1.6, 1.2, 1.1, 0.6, 0.2, 0.1, 0.1, 0.1, 0.1, 0.1, 0.1, 0.1, 0.3, 7.8, 5.8, 5.0, 3.3, 2.2, 1.7]
cbar_ticks = [0, 2, 4, 6, 8]
cbar_labels = ['0', '2', '4', '6', '>8']
cbar_marks = [2, 4, 6]

# ---------- drawing ----------
BLACK = '#0c0c0c'
RED = '#f50f0a'
DASH = '#990a08'
FS = 13.3
LAB = 13.9

fig = plt.figure(figsize=(W / 300, H / 300), dpi=300, facecolor='white')


def px_axes(x0, x1, ytop, ybot, **kw):
    return fig.add_axes([x0 / W, 1 - ybot / H, (x1 - x0) / W, (ybot - ytop) / H], **kw)


def T(x, y, s, **kw):
    kw.setdefault('fontsize', FS)
    kw.setdefault('va', 'baseline')
    kw.setdefault('ha', 'left')
    return fig.text(x / W, 1 - y / H, s, **kw)


def style(ax, xt, xl, yt, yl, yminor=None, xpad=7.7, lift=5):
    for s in ('top', 'right'):
        ax.spines[s].set_visible(False)
    for s in ('left', 'bottom'):
        ax.spines[s].set_linewidth(2.2)
        ax.spines[s].set_color(BLACK)
    ax.set_xticks(xt)
    ax.set_xticklabels(xl)
    ax.set_yticks(yt)
    ax.set_yticklabels(yl)
    ax.tick_params(axis='x', length=6.2, width=2.2, pad=xpad, labelsize=FS, color=BLACK)
    ax.tick_params(axis='y', length=7.0, width=2.2, pad=3.0, labelsize=FS, color=BLACK)
    if yminor is not None:
        ax.set_yticks(yminor, minor=True)
        ax.tick_params(axis='y', which='minor', length=4.6, width=2.2, color=BLACK)
    offset = ScaledTranslation(0, lift / 300, fig.dpi_scale_trans)
    for lab in ax.get_yticklabels():
        lab.set_transform(lab.get_transform() + offset)
    ax.patch.set_alpha(0)


def grid_points(xs, tops, ys, rights):
    px, py = [], []
    for x, t in zip(xs, tops):
        for y, r in zip(ys, rights):
            if x <= r and y <= t:
                px.append(x)
                py.append(y)
    return px, py


top_panels = [
    dict(letter='A', lx=0, spine=198, x0=207, x1=827, xmax=5, ytop=115, y0=735, yb=745, ymax=5, ylx=55, tx=235, ty=181,
         rx=606, r1=593, r2=691, xc=512, xb=934, lb=1015, l1=227, c1=448, l2=487, c2=759, l3=784,
         gx=A_grid_x, gt=A_col_top, gy=A_grid_y, gr=A_row_right, ry=A_red_y, rr=A_red_right,
         cx=A_core_x, cl=A_core_lo, ch=A_core_hi, bx=A_band_x, bl=A_band_lo, bh=A_band_hi,
         rpx=A_red_px, rpy=A_red_py, kpx=A_blk_px, kpy=A_blk_py),
    dict(letter='B', lx=945, spine=1134, x0=1144, x1=1765, xmax=5, ytop=115, y0=735, yb=745, ymax=5, ylx=992, tx=1173, ty=177,
         rx=1543, r1=588, r2=691, xc=1449, xb=934, lb=1015, l1=1163, c1=1386, l2=1425, c2=1696, l3=1721,
         gx=B_grid_x, gt=B_col_top, gy=B_grid_y, gr=B_row_right, ry=B_red_y, rr=B_red_right,
         cx=B_core_x, cl=B_core_lo, ch=B_core_hi, bx=B_band_x, bl=B_band_lo, bh=B_band_hi,
         rpx=B_red_px, rpy=B_red_py, kpx=B_blk_px, kpy=B_blk_py),
    dict(letter='C', lx=1879, spine=2070, x0=2079, x1=2701, xmax=6, ytop=119, y0=739, yb=749, ymax=6, ylx=1927, tx=2108, ty=186,
         rx=2479, r1=597, r2=695, xc=2385, xb=938, lb=1018, l1=2098, c1=2321, l2=2360, c2=2631, l3=2655,
         gx=C_grid_x, gt=C_col_top, gy=C_grid_y, gr=C_row_right, ry=C_red_y, rr=C_red_right,
         cx=C_core_x, cl=C_core_lo, ch=C_core_hi, bx=C_band_x, bl=C_band_lo, bh=C_band_hi,
         rpx=C_red_px, rpy=C_red_py, kpx=C_blk_px, kpy=C_blk_py),
    dict(letter='D', lx=2755, spine=2940, x0=2949, x1=3570, xmax=6, ytop=119, y0=739, yb=749, ymax=6, ylx=2798, tx=2978, ty=180,
         rx=3349, r1=597, r2=695, xc=3255, xb=938, lb=1018, l1=2969, c1=3191, l2=3229, c2=3501, l3=3525,
         gx=D_grid_x, gt=D_col_top, gy=D_grid_y, gr=D_row_right, ry=D_red_y, rr=D_red_right,
         cx=D_core_x, cl=D_core_lo, ch=D_core_hi, bx=D_band_x, bl=D_band_lo, bh=D_band_hi,
         rpx=D_red_px, rpy=D_red_py, kpx=D_blk_px, kpy=D_blk_py),
]

overlay = fig.add_axes([0, 0, 1, 1], zorder=10)
overlay.set_xlim(0, W)
overlay.set_ylim(H, 0)
overlay.axis('off')
overlay.patch.set_alpha(0)

for i, p in enumerate(top_panels):
    ax = px_axes(p['spine'], p['x1'], p['ytop'], p['yb'])
    sx = (p['x1'] - p['x0']) / p['xmax']
    sy = (p['y0'] - p['ytop']) / p['ymax']
    ax.set_xlim((p['spine'] - p['x0']) / sx, p['xmax'])
    ax.set_ylim((p['y0'] - p['yb']) / sy, p['ymax'])
    ticks = list(range(p['xmax'] + 1))
    style(ax, ticks, [str(t) for t in ticks], ticks, [str(t) for t in ticks])
    rx_, ry_ = grid_points(p['gx'], p['gt'], p['ry'], p['rr'])
    ax.fill_between(p['bx'], p['bl'], p['bh'], color=RED, lw=0, zorder=2)
    ax.scatter(rx_, ry_, s=10, c=RED, lw=0, zorder=2, clip_on=False)
    ax.scatter(p['rpx'], p['rpy'], s=10, c=RED, lw=0, zorder=2, clip_on=False)
    kx_, ky_ = grid_points(p['gx'], p['gt'], p['gy'], p['gr'])
    ax.fill_between(p['cx'], p['cl'], p['ch'], color=BLACK, lw=0, zorder=3)
    ax.scatter(kx_, ky_, s=10, c=BLACK, lw=0, zorder=3, clip_on=False)
    ax.scatter(p['kpx'], p['kpy'], s=10, c=BLACK, lw=0, zorder=3, clip_on=False)
    T(p['lx'], 64, p['letter'], fontsize=19)
    T(p['tx'], p['ty'], top_titles[i])
    T(p['rx'], p['r1'], R_black[i], color=BLACK)
    T(p['rx'], p['r2'], R_red[i], color=RED)
    T(p['ylx'], 439, 'Log$_{10}$ reads/gene (rep #1)', rotation=90, ha='center', va='center', fontsize=14.2)
    T(p['xc'], p['xb'], 'Log$_{10}$ reads/gene', ha='center', fontsize=LAB)
    T(p['l1'], p['lb'], '(rep #2')
    T(p['l2'], p['lb'], 'or rep #3')
    T(p['l3'], p['lb'], ')')
    overlay.add_patch(Ellipse((p['c1'], p['lb'] - 19), 34, 34, color=BLACK, lw=0))
    overlay.add_patch(Ellipse((p['c2'], p['lb'] - 19), 34, 34, color=RED, lw=0))

VB = 1833
vol_panels = [
    dict(letter='E', lx=7, xl=197, xr=827, y0=1808, ref=10, yref=1258, top=11, minor=[1, 3, 5, 7, 9, 11], major=[0, 2, 4, 6, 8, 10],
         ylx=50, tx=234, ty=1262, xc=499, lv=E_lv, Lo=E_L_out, Li=E_L_in, Ro=E_R_out, Ri=E_R_in, px=E_px, py=E_py),
    dict(letter='F', lx=945, xl=1133, xr=1765, y0=1808, ref=10, yref=1260, top=11, minor=[1, 3, 5, 7, 9, 11], major=[0, 2, 4, 6, 8, 10],
         ylx=989, tx=1176, ty=1262, xc=1437, lv=F_lv, Lo=F_L_out, Li=F_L_in, Ro=F_R_out, Ri=F_R_in, px=F_px, py=F_py),
    dict(letter='G', lx=1879, xl=2068, xr=2702, y0=1811, ref=12, yref=1250, top=13, minor=[1, 3, 5, 7, 9, 11, 13], major=[0, 2, 4, 6, 8, 10, 12],
         ylx=1923, tx=2109, ty=1268, xc=2374, lv=G_lv, Lo=G_L_out, Li=G_L_in, Ro=G_R_out, Ri=G_R_in, px=G_px, py=G_py),
    dict(letter='H', lx=2755, xl=2938, xr=3570, y0=1801, ref=8, yref=1270, top=9, minor=[1, 3, 5, 7, 9], major=[0, 2, 4, 6, 8],
         ylx=2795, tx=2980, ty=1262, xc=3243, lv=H_lv, Lo=H_L_out, Li=H_L_in, Ro=H_R_out, Ri=H_R_in, px=H_px, py=H_py),
]
vol_xticks = [-12, -8, -4, 0, 4, 8, 12]

for i, p in enumerate(vol_panels):
    sy = (p['y0'] - p['yref']) / p['ref']
    ytop_px = p['y0'] - p['top'] * sy
    ax = px_axes(p['xl'], p['xr'], ytop_px, VB)
    ax.set_xlim(-12, 12)
    ax.set_ylim((p['y0'] - VB) / sy, p['top'])
    style(ax, vol_xticks, [str(t) for t in vol_xticks], p['major'], [str(t) for t in p['major']], p['minor'], xpad=8.2, lift=4)
    ax.fill_betweenx(p['lv'], p['Lo'], p['Li'], color=BLACK, lw=0, zorder=2)
    ax.fill_betweenx(p['lv'], p['Ri'], p['Ro'], color=BLACK, lw=0, zorder=2)
    ax.scatter(p['px'], p['py'], s=11.5, c=BLACK, lw=0, zorder=3, clip_on=False)
    vb = (p['y0'] - 1817) / sy
    vt = p['top'] - 0.05
    for xv in (-1, 1):
        ax.plot([xv, xv], [vt, vb], color=DASH, lw=2.2, dashes=(5.5, 7.2), dash_capstyle='round', zorder=5)
    ax.plot([-12, 11.4], [1.3, 1.3], color=DASH, lw=2.2, dashes=(5.5, 7.2), dash_capstyle='round', zorder=5, clip_on=False)
    T(p['lx'], 1217, p['letter'], fontsize=19)
    T(p['tx'], p['ty'], volcano_titles[i])
    T(p['ylx'], 1539, r'-Log$_{10}$(adj. $P_{value}$)', rotation=90, ha='center', va='center', fontsize=LAB)
    T(p['xc'], 2019, 'Log$_{2}$ fold change', ha='center', fontsize=LAB)

# panel I
sx = 140.5
ax = px_axes(241, 869, 2356, 2988)
ax.set_xlim((241 - 588) / sx, 2)
ax.set_ylim(-1.0, 1.5)
style(ax, [-2, -1, 0, 1, 2], ['-2', '-1', '0', '1', '2'], [-1.0, -0.5, 0.0, 0.5, 1.0, 1.5],
      ['-1.0', '-0.5', '0.0', '0.5', '1.0', '1.5'], [-0.75, -0.25, 0.25, 0.75, 1.25], lift=3)
ax.tick_params(axis='x', length=6.4, pad=7)
mk = dict(marker='s', s=60, edgecolors=BLACK, linewidths=1.3, clip_on=False)
ax.scatter(mds_ll37_x[:2], mds_ll37_y[:2], c='#4f5fff', zorder=3, **mk)
ax.scatter(mds_col_x, mds_col_y, c='#f8679b', zorder=4, **mk)
ax.scatter(mds_ll37_x[2:], mds_ll37_y[2:], c='#4f5fff', zorder=5, **mk)
ax.scatter(mds_csa13_x[:1], mds_csa13_y[:1], c='#f5f510', zorder=3, **mk)
ax.scatter(mds_csa13_x[1:], mds_csa13_y[1:], c='#f5f510', zorder=4, **mk)
ax.scatter(mds_csa131_x, mds_csa131_y, c='#45ff00', zorder=4, **mk)
ax.scatter(mds_untreated_x, mds_untreated_y, c=BLACK, s=75, lw=0, zorder=4)
T(25, 2217, 'I', fontsize=19)
T(44, 2682, 'Leading log$_2$ FC dimension no2', rotation=90, ha='center', va='center', fontsize=13.4)
T(552, 3185, 'Leading log$_2$ FC dimension no1', ha='center', fontsize=13.4)
leg_y = [2334, 2436, 2536, 2633, 2732]
leg_c = [BLACK, '#f8679b', '#4f5fff', '#f5f510', '#45ff00']
for n, yy, c in zip(mds_names, leg_y, leg_c):
    if n == 'Untreated':
        overlay.add_patch(Ellipse((931, yy), 36, 36, color=BLACK, lw=0))
    else:
        overlay.add_patch(Rectangle((931 - 16, yy - 15), 32, 30, fc=c, ec=BLACK, lw=1.3))
    T(980, yy + 20, n, fontsize=13.4)

cmap = LinearSegmentedColormap.from_list('by', [(0.0, '#0a0b09'), (0.25, '#2f3300'), (0.5, '#668000'),
                                                (0.75, '#a9cc00'), (1.0, '#f7ff00')])
norm = Normalize(0, 8)


def heat(cols, terms, cx0, cx1, cy0, cy1, frame, lab_right, lab_y0, lab_step, col_centres, col_top, term_fs, col_fs):
    fig.add_artist(Rectangle((frame[0] / W, 1 - frame[3] / H), (frame[1] - frame[0]) / W, (frame[3] - frame[2]) / H,
                             transform=fig.transFigure, fc=BLACK, ec='none', zorder=-1))
    a = px_axes(cx0, cx1, cy0, cy1)
    a.imshow(list(zip(*cols)), cmap=cmap, norm=norm, aspect='auto', interpolation='nearest')
    a.axis('off')
    for k, t in enumerate(terms):
        T(lab_right, lab_y0 + k * lab_step, t, ha='right', va='center_baseline', style='italic', fontsize=term_fs)
    for c, xc in zip(heat_cols, col_centres):
        T(xc, col_top, c, rotation=90, ha='center', va='top', fontsize=col_fs)


heat([up_COL, up_LL37, up_CSA13, up_CSA131], up_terms, 1865, 2190, 2452, 3124, (1855, 2200, 2441, 3134), 1833,
     2462, 45.5, [1903, 1987, 2071, 2154], 3169, 12.8, 17.8)
heat([down_COL, down_LL37, down_CSA13, down_CSA131], down_terms, 2861, 3186, 2453, 3443, (2851, 3197, 2441, 3451), 2829,
     2462, 45.4, [2896, 2983, 3066, 3150], 3490, 12.8, 17.8)
T(1285, 2216, 'J', fontsize=19)
T(2289, 2215, 'K', fontsize=19)
T(1337, 2285, 'Annotation terms enriched', fontsize=17.9)
T(1337, 2374, 'in up-regulated genes', fontsize=17.9)
T(2345, 2285, 'Annotation terms enriched', fontsize=17.9)
T(2345, 2374, 'in down-regulated genes', fontsize=17.9)

# colour bar
fig.add_artist(Rectangle((3322 / W, 1 - 3413 / H), 88 / W, (3413 - 2444) / H, transform=fig.transFigure,
                         fc=BLACK, ec='none', zorder=-1))
cax = px_axes(3333, 3400, 2453, 3413)
cb = fig.colorbar(ScalarMappable(norm=norm, cmap=cmap), cax=cax)
cb.set_ticks(cbar_ticks)
cb.set_ticklabels(cbar_labels)
cb.outline.set_visible(False)
cax.tick_params(axis='y', which='major', left=False, right=False, length=0, pad=11, labelsize=13.7)
cax.hlines(cbar_marks, 0, 0.32, colors=BLACK, lw=1.6)
cax.hlines(cbar_marks, 0.68, 1, colors=BLACK, lw=1.6)
T(3548, 2941, r'-Log$_{10}$ (Adj. $P_{value}$)', rotation=90, ha='center', va='center', fontsize=14)

fig.savefig('out.png', dpi=300)
